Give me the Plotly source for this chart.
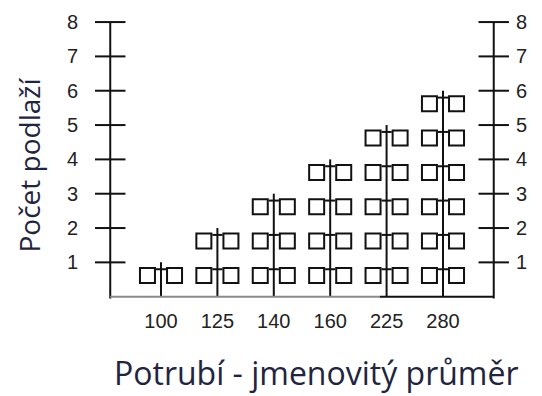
import plotly.graph_objects as go

# ---- data ----
categories = ["100", "125", "140", "160", "225", "280"]   # pipe diameters
floors = [1, 2, 3, 4, 5, 6]                               # max floor count per diameter
y_ticks = [1, 2, 3, 4, 5, 6, 7, 8]
x_title = "Potrubí - jmenovitý průměr"
y_title = "Počet podlaží"

# ---- style constants ----
AX_L, AX_R = -0.9, 5.9        # positions of the two side axes (x units)
TICK_HALF = 0.27              # half length of side-axis ticks
SQ_OFF = 0.24                 # horizontal offset of the squares from category line
SQ_DY = -0.38                 # vertical offset of square centres from floor level
CON_DY = -0.2                 # vertical offset of connector tick
CON_HALF = 0.09
LINE = "#111111"
TXT = "#1f2540"

xs = list(range(len(categories)))

fig = go.Figure()

# category vertical lines
vx, vy = [], []
for x, n in zip(xs, floors):
    vx += [x, x, None]
    vy += [0, n, None]
fig.add_trace(go.Scatter(x=vx, y=vy, mode="lines", line=dict(color=LINE, width=2),
                         hoverinfo="skip", showlegend=False))

# connector ticks between square pairs
cx, cy = [], []
for x, n in zip(xs, floors):
    for k in range(1, n + 1):
        cx += [x - CON_HALF, x + CON_HALF, None]
        cy += [k + CON_DY, k + CON_DY, None]
fig.add_trace(go.Scatter(x=cx, y=cy, mode="lines", line=dict(color=LINE, width=2),
                         hoverinfo="skip", showlegend=False))

# squares
sx, sy = [], []
for x, n in zip(xs, floors):
    for k in range(1, n + 1):
        sx += [x - SQ_OFF, x + SQ_OFF]
        sy += [k + SQ_DY, k + SQ_DY]
fig.add_trace(go.Scatter(x=sx, y=sy, mode="markers",
                         marker=dict(symbol="square-open", size=15, color=LINE,
                                     line=dict(width=2, color=LINE)),
                         hoverinfo="skip", showlegend=False))

# side axes with ticks
for ax in (AX_L, AX_R):
    ax_x = [ax, ax, None]
    ax_y = [-0.05, max(y_ticks), None]
    for t in y_ticks:
        ax_x += [ax - TICK_HALF, ax + TICK_HALF, None]
        ax_y += [t, t, None]
    fig.add_trace(go.Scatter(x=ax_x, y=ax_y, mode="lines", line=dict(color=LINE, width=2),
                             hoverinfo="skip", showlegend=False))

# baseline (grey left part, black right part as in the reference)
split = 3.88
fig.add_trace(go.Scatter(x=[AX_L, split], y=[0, 0], mode="lines",
                         line=dict(color="#8a8a8a", width=2), hoverinfo="skip", showlegend=False))
fig.add_trace(go.Scatter(x=[split, AX_R], y=[0, 0], mode="lines",
                         line=dict(color=LINE, width=2), hoverinfo="skip", showlegend=False))

# invisible trace to activate right axis
fig.add_trace(go.Scatter(x=[None], y=[None], yaxis="y2", showlegend=False, hoverinfo="skip"))

tick_font = dict(family="Liberation Sans, Arial, sans-serif", size=20, color="#222222")
yr = [-0.3, 8.41]

# page body has an 8px margin, so the figure is 8px smaller than the window
W, H = 534, 388
ML, MR, MT, MB = 71, 27, 0, 89
plot_h = H - MT - MB
plot_w = W - ML - MR

fig.update_layout(
    width=W, height=H,
    margin=dict(l=ML, r=MR, t=MT, b=MB, autoexpand=False),
    paper_bgcolor="white", plot_bgcolor="white",
    showlegend=False,
    xaxis=dict(range=[-1.454, 6.277], tickvals=xs, ticktext=categories, showgrid=False,
               zeroline=False, showline=False, ticks="", tickfont=tick_font, fixedrange=True),
    yaxis=dict(range=yr, tickvals=y_ticks, ticktext=[str(t) for t in y_ticks], showgrid=False,
               zeroline=False, showline=False, ticks="", tickfont=tick_font),
    yaxis2=dict(range=yr, overlaying="y", side="right", tickvals=y_ticks,
                ticktext=[str(t) for t in y_ticks], showgrid=False, zeroline=False,
                showline=False, ticks="", tickfont=tick_font),
    annotations=[
        dict(text=x_title, xref="paper", yref="paper", x=(308 - ML) / plot_w,
             y=(plot_h - 364) / plot_h,
             xanchor="center", yanchor="middle", showarrow=False,
             font=dict(family="Open Sans, sans-serif", size=32, color=TXT)),
        dict(text=y_title, xref="paper", yref="paper", x=(20.5 - ML) / plot_w,
             y=(plot_h - 157) / plot_h,
             xanchor="center", yanchor="middle", textangle=-90, showarrow=False,
             font=dict(family="Open Sans, sans-serif", size=28, color=TXT)),
    ],
)

fig.write_html("out.html")
